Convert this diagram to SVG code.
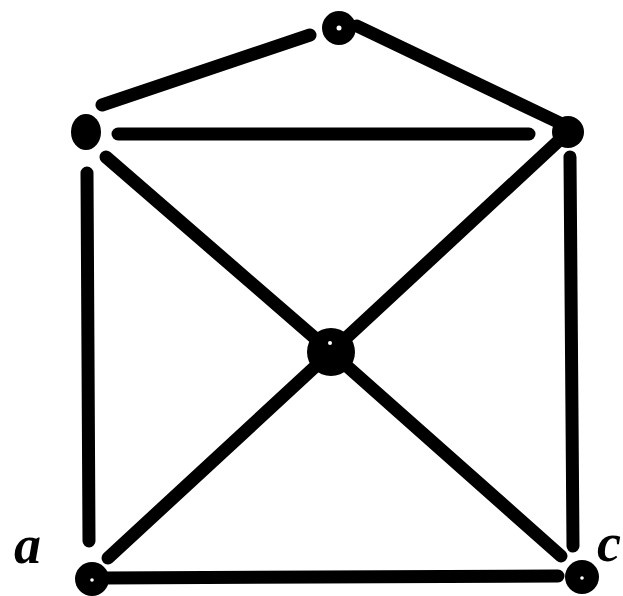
<svg xmlns="http://www.w3.org/2000/svg" width="623" height="596" viewBox="0 0 623 596">
<style>
.e{stroke:#000;stroke-width:13;stroke-linecap:round;fill:none}
.n{fill:#000}
.h{fill:#fff}
.lbl{font-family:"Liberation Serif",serif;font-style:italic;font-weight:bold;font-size:54px;fill:#000}
</style>
<rect width="623" height="596" fill="#fff"/>
<g id="edges">
<line class="e" x1="102" y1="105" x2="310" y2="35"/>
<line class="e" x1="357" y1="26" x2="562" y2="124"/>
<line class="e" x1="118" y1="134" x2="529" y2="134"/>
<line class="e" x1="87" y1="173" x2="89" y2="541"/>
<line class="e" x1="570" y1="157" x2="573" y2="546"/>
<line class="e" x1="106" y1="157" x2="331" y2="352"/>
<line class="e" x1="566" y1="134" x2="331" y2="352"/>
<line class="e" x1="331" y1="352" x2="108" y2="558"/>
<line class="e" x1="331" y1="352" x2="561" y2="556"/>
<line class="e" x1="104" y1="578" x2="558" y2="576"/>
</g>
<g id="node-top"><circle class="n" cx="339" cy="28" r="17"/><circle class="h" cx="339" cy="28" r="2.5"/></g>
<g id="node-left"><ellipse class="n" cx="86" cy="132" rx="15" ry="18"/></g>
<g id="node-right"><circle class="n" cx="568" cy="132" r="16"/></g>
<g id="node-center"><circle class="n" cx="331" cy="352" r="24"/><circle class="h" cx="330" cy="343" r="2"/></g>
<g id="node-a"><circle class="n" cx="92" cy="579" r="17"/><circle class="h" cx="92" cy="580" r="1.8"/></g>
<g id="node-c"><circle class="n" cx="582" cy="577" r="17"/><circle class="h" cx="582" cy="578" r="1.8"/></g>
<text class="lbl" x="14" y="563">a</text>
<text class="lbl" x="597" y="561">c</text>
</svg>
